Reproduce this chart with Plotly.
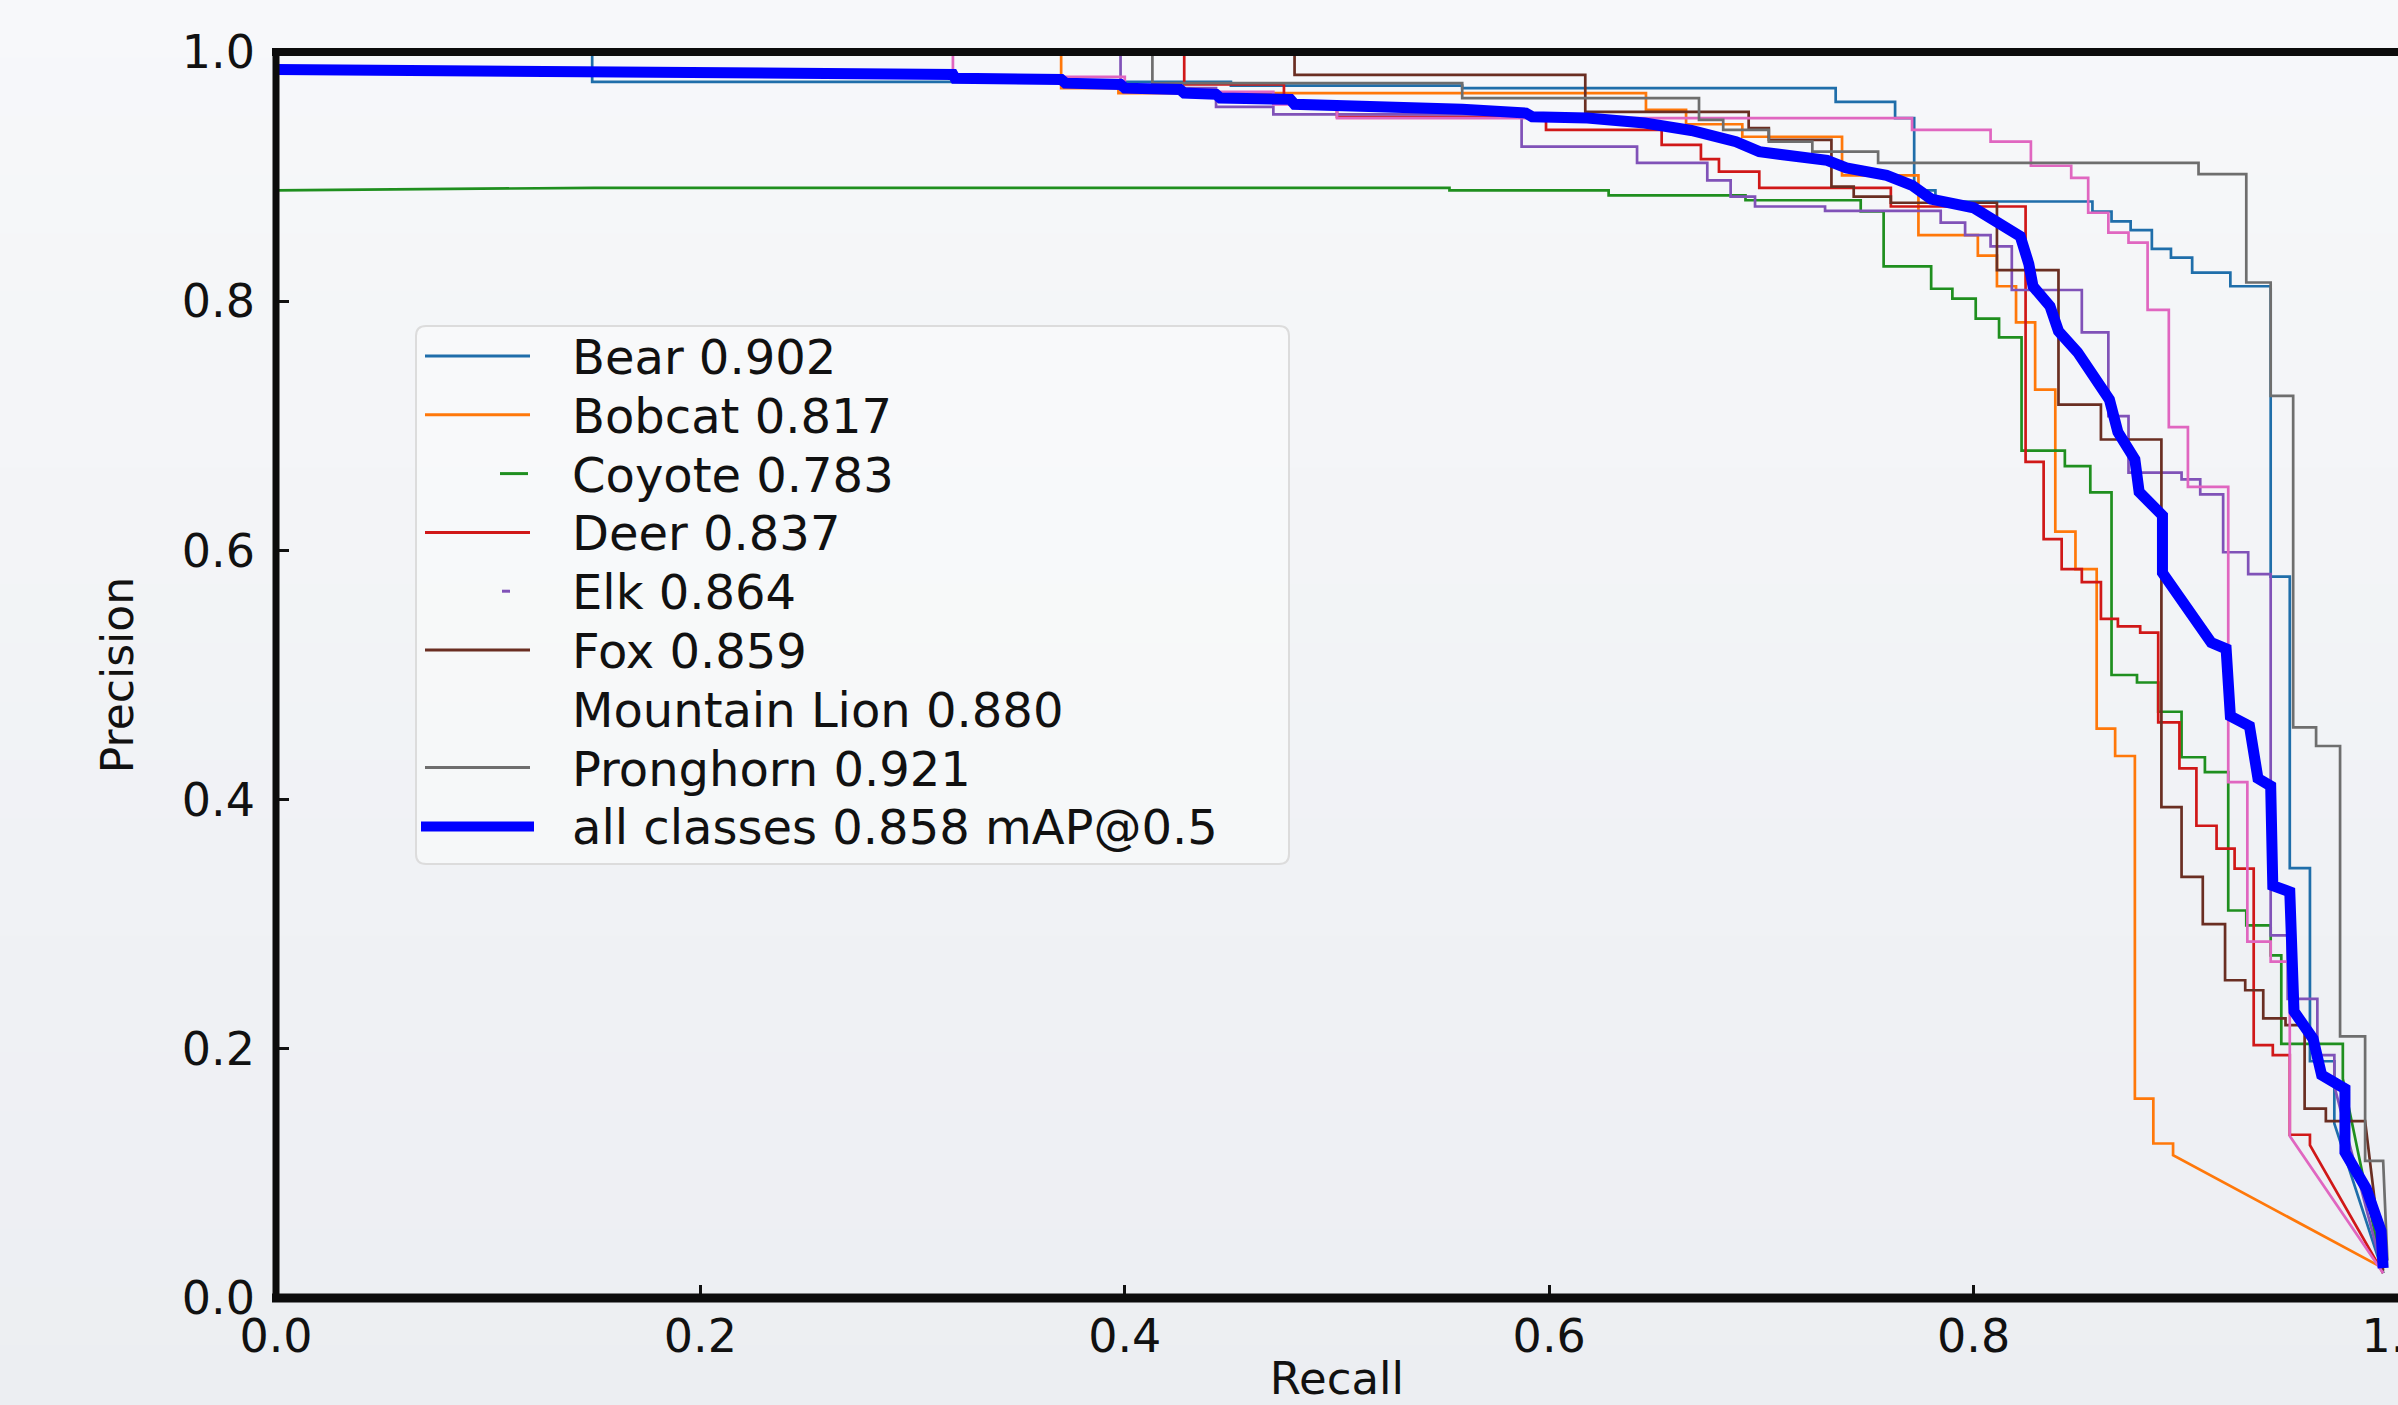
import plotly.graph_objects as go

# ---------------- data ----------------
class_names = ["Bear", "Bobcat", "Coyote", "Deer", "Elk", "Fox", "Mountain Lion", "Pronghorn"]
class_ap = [0.902, 0.817, 0.783, 0.837, 0.864, 0.859, 0.880, 0.921]
all_classes_map = 0.858

bear_recall = [0, .149, .149, .45, .45, .559, .559, .735, .735, .763, .763, .772, .772, .782, .782, .856, .856,
               .865, .865, .874, .874, .884, .884, .893, .893, .903, .903, .921, .921, .940, .940, .949, .949,
               .9585, .9585, .970, .970, .993]
bear_precision = [1, 1, .976, .976, .973, .973, .971, .971, .960, .960, .947, .947, .889, .889, .880, .880, .872,
                  .872, .864, .864, .857, .857, .842, .842, .835, .835, .823, .823, .812, .812, .579, .579, .345,
                  .345, .19, .19, .14, .02]

bobcat_recall = [0, .37, .37, .397, .397, .6456, .6456, .6645, .6645, .691, .691, .738, .738, .774, .774, .802,
                 .802, .811, .811, .820, .820, .829, .829, .8385, .8385, .848, .848, .858, .858, .8667, .8667,
                 .876, .876, .8847, .8847, .894, .894, .993]
bobcat_precision = [1, 1, .971, .971, .967, .967, .9535, .9535, .942, .942, .932, .932, .901, .901, .853, .853,
                    .8365, .8365, .812, .812, .783, .783, .729, .729, .615, .615, .585, .585, .457, .457, .435,
                    .435, .16, .16, .124, .124, .1146, .024]

coyote_recall = [0, .15, .553, .553, .628, .628, .6925, .6925, .7468, .7468, .7576, .7576, .780, .780, .790, .790,
                 .801, .801, .812, .812, .8226, .8226, .843, .843, .855, .855, .865, .865, .877, .877, .887, .887,
                 .898, .898, .909, .909, .920, .920, .9285, .9285, .940, .940, .945, .945, .974, .974, .993]
coyote_precision = [.889, .891, .891, .889, .889, .885, .885, .881, .881, .872, .872, .828, .828, .810, .810, .802,
                    .802, .786, .786, .771, .771, .680, .680, .6676, .6676, .6465, .6465, .50, .50, .494, .494,
                    .4705, .4705, .434, .434, .422, .422, .311, .311, .299, .299, .275, .275, .204, .204, .176, .02]

deer_recall = [0, .428, .428, .475, .475, .50, .50, .5985, .5985, .653, .653, .6715, .6715, .68, .68, .699, .699,
               .761, .761, .8245, .8245, .833, .833, .8415, .8415, .851, .851, .860, .860, .868, .868, .8785,
               .8785, .887, .887, .897, .897, .905, .905, .9145, .9145, .923, .923, .932, .932, .941, .941, .949,
               .949, .9585, .9585, .993]
deer_precision = [1, 1, .974, .974, .96, .96, .948, .948, .9375, .9375, .9255, .9255, .914, .914, .904, .904,
                  .891, .891, .876, .876, .671, .671, .609, .609, .585, .585, .5745, .5745, .545, .545, .539,
                  .539, .534, .534, .462, .462, .425, .425, .379, .379, .3606, .3606, .3446, .3446, .203, .203,
                  .195, .195, .131, .131, .1226, .02]

elk_recall = [0, .398, .398, .443, .443, .47, .47, .587, .587, .6414, .6414, .6745, .6745, .6855, .6855, .697,
              .697, .730, .730, .7845, .7845, .796, .796, .808, .808, .818, .818, .851, .851, .8635, .8635, .873,
              .873, .898, .898, .9068, .9068, .9176, .9176, .9294, .9294, .940, .940, .948, .948, .962, .962,
              .970, .970, .993]
elk_precision = [1, 1, .971, .971, .956, .956, .95, .95, .924, .924, .911, .911, .897, .897, .884, .884, .876,
                 .876, .8725, .8725, .863, .863, .853, .853, .844, .844, .809, .809, .775, .775, .7077, .7077,
                 .6625, .6625, .657, .657, .645, .645, .5985, .5985, .581, .581, .291, .291, .24, .24, .195, .195,
                 .17, .02]

fox_recall = [0, .48, .48, .617, .617, .694, .694, .7035, .7035, .733, .733, .7435, .7435, .761, .761, .811, .811,
              .840, .840, .860, .860, .8885, .8885, .898, .898, .908, .908, .9185, .9185, .928, .928, .9365,
              .9365, .947, .947, .956, .956, .966, .966, .9845, .993]
fox_precision = [1, 1, .9816, .9816, .952, .952, .939, .939, .9295, .9295, .892, .892, .884, .884, .879, .879,
                 .825, .825, .717, .717, .689, .689, .394, .394, .338, .338, .30, .30, .255, .255, .247, .247,
                 .2244, .2244, .219, .219, .152, .152, .142, .142, .022]

lion_recall = [0, .319, .319, .40, .40, .47, .47, .50, .50, .771, .771, .808, .808, .827, .827, .846, .846, .854,
               .854, .8635, .8635, .873, .873, .882, .882, .892, .892, .901, .901, .920, .920, .929, .929, .940,
               .940, .949, .949, .993]
lion_precision = [1, 1, .980, .980, .968, .968, .958, .958, .947, .947, .9375, .9375, .928, .928, .9087, .9087,
                  .899, .899, .871, .871, .855, .855, .847, .847, .793, .793, .699, .699, .651, .651, .414, .414,
                  .286, .286, .27, .27, .13, .02]

pronghorn_recall = [0, .413, .413, .559, .559, .6706, .6706, .682, .682, .7035, .7035, .724, .724, .755, .755,
                    .906, .906, .9285, .9285, .940, .940, .9506, .9506, .9614, .9614, .9727, .9727, .9845,
                    .9845, .993, .995]
pronghorn_precision = [1, 1, .975, .975, .963, .963, .9455, .9455, .9375, .9375, .928, .928, .92, .92, .911,
                       .911, .902, .902, .815, .815, .724, .724, .458, .458, .443, .443, .21, .21, .11, .11, .03]

all_recall = [0, .149, .15, .319, .32, .37, .372, .398, .40, .426, .428, .443, .445, .478, .48, .537, .559, .589,
              .592, .618, .645, .667, .688, .699, .718, .731, .740, .759, .771, .780, .800, .813, .822, .826,
              .828, .836, .840, .849, .855, .864, .868, .876, .878, .889, .889, .897, .905, .912, .919, .921,
              .930, .934, .940, .941, .949, .951, .960, .964, .975, .975, .985, .992, .993]
all_precision = [.986, .985, .983, .982, .979, .978, .975, .974, .971, .970, .967, .966, .963, .962, .958, .956,
                 .954, .951, .948, .947, .943, .937, .928, .920, .916, .913, .907, .901, .893, .882, .875, .861,
                 .852, .830, .812, .796, .776, .759, .743, .721, .695, .673, .647, .628, .582, .563, .542, .526,
                 .521, .467, .459, .417, .411, .331, .326, .230, .208, .179, .168, .117, .088, .054, .024]

x_tick_values = [0.0, 0.2, 0.4, 0.6, 0.8, 1.0]
y_tick_values = [0.0, 0.2, 0.4, 0.6, 0.8, 1.0]

# ---------------- styles ----------------
class_curves = [
    (bear_recall, bear_precision),
    (bobcat_recall, bobcat_precision),
    (coyote_recall, coyote_precision),
    (deer_recall, deer_precision),
    (elk_recall, elk_precision),
    (fox_recall, fox_precision),
    (lion_recall, lion_precision),
    (pronghorn_recall, pronghorn_precision),
]
class_colors = ["#1f6eaa", "#ff780a", "#1f8f1f", "#d01818", "#8052b8", "#6a2e22", "#e066c0", "#6e6e6e"]
all_color = "#0000ff"
FONT = "DejaVu Sans"
TEXT = "#111111"

W, H = 2398, 1405
L, T, BOT = 276, 52, 1298           # plot-area edges in pixels
PW, PH = W - L, BOT - T


def px_x(X):
    return (X - L) / PW


def px_y(Y):
    return (BOT - Y) / PH


fig = go.Figure()
for name, ap, (rec, prec), col in zip(class_names, class_ap, class_curves, class_colors):
    fig.add_trace(go.Scatter(x=rec, y=prec, mode="lines", name=f"{name} {ap:.3f}",
                             line=dict(color=col, width=2.7), showlegend=False))
fig.add_trace(go.Scatter(x=all_recall, y=all_precision, mode="lines",
                         name=f"all classes {all_classes_map:.3f} mAP@0.5",
                         line=dict(color=all_color, width=11), showlegend=False))

shapes = []
# soft vertical background gradient (lighter at the top)
top_rgb, bot_rgb = (247, 248, 250), (236, 238, 242)
n_bands = 24
for i in range(n_bands):
    f = (i + 0.5) / n_bands
    c = tuple(round(a + (b - a) * f) for a, b in zip(top_rgb, bot_rgb))
    shapes.append(dict(type="rect", xref="paper", yref="paper", layer="below",
                       x0=px_x(-2), x1=px_x(W + 2),
                       y0=px_y(H * (i + 1) / n_bands + 1), y1=px_y(H * i / n_bands - 1),
                       fillcolor=f"rgb{c}", line=dict(width=0)))

# spines (matplotlib-like, centred on the axes edges)
spine_col = "#0c0c0c"
shapes.append(dict(type="line", xref="paper", yref="paper", x0=px_x(L - 4), x1=1.0, y0=1, y1=1,
                   line=dict(color=spine_col, width=8), layer="above"))
shapes.append(dict(type="line", xref="paper", yref="paper", x0=px_x(L - 4), x1=1.0, y0=0, y1=0,
                   line=dict(color=spine_col, width=9), layer="above"))
shapes.append(dict(type="line", xref="paper", yref="paper", x0=0, x1=0, y0=px_y(BOT + 4), y1=px_y(T - 4),
                   line=dict(color=spine_col, width=7), layer="above"))

# manual legend (matplotlib style)
bx0, bx1, by0, by1 = 416, 1289, 326, 864
r = 10
path = (f"M {px_x(bx0 + r)},{px_y(by0)} L {px_x(bx1 - r)},{px_y(by0)} "
        f"Q {px_x(bx1)},{px_y(by0)} {px_x(bx1)},{px_y(by0 + r)} "
        f"L {px_x(bx1)},{px_y(by1 - r)} Q {px_x(bx1)},{px_y(by1)} {px_x(bx1 - r)},{px_y(by1)} "
        f"L {px_x(bx0 + r)},{px_y(by1)} Q {px_x(bx0)},{px_y(by1)} {px_x(bx0)},{px_y(by1 - r)} "
        f"L {px_x(bx0)},{px_y(by0 + r)} Q {px_x(bx0)},{px_y(by0)} {px_x(bx0 + r)},{px_y(by0)} Z")
shapes.append(dict(type="path", xref="paper", yref="paper", path=path,
                   fillcolor="rgba(250,251,252,0.6)", line=dict(color="#dcdcdc", width=2), layer="above"))

row_y0, row_step = 356, 58.8
sample_x = [(425, 530), (425, 530), (500, 528), (425, 530), (502, 510), (425, 530), None, (425, 530)]
labels = [f"{n} {a:.3f}" for n, a in zip(class_names, class_ap)] + \
         [f"all classes {all_classes_map:.3f} mAP@0.5"]
annotations = []
for i, lab in enumerate(labels):
    yy = row_y0 + i * row_step
    if i < len(class_names):
        seg = sample_x[i]
        if seg is not None:
            shapes.append(dict(type="line", xref="paper", yref="paper", x0=px_x(seg[0]), x1=px_x(seg[1]),
                               y0=px_y(yy), y1=px_y(yy), line=dict(color=class_colors[i], width=3),
                               layer="above"))
    else:
        shapes.append(dict(type="line", xref="paper", yref="paper", x0=px_x(421), x1=px_x(534),
                           y0=px_y(yy), y1=px_y(yy), line=dict(color=all_color, width=10), layer="above"))
    annotations.append(dict(xref="paper", yref="paper", x=px_x(570), y=px_y(yy + 1), text=lab,
                            showarrow=False, xanchor="left", yanchor="middle",
                            font=dict(family=FONT, size=48, color=TEXT)))

fig.update_layout(
    width=W, height=H,
    margin=dict(l=L, r=0, t=T, b=H - BOT, pad=0),
    paper_bgcolor="#f2f3f6", plot_bgcolor="rgba(0,0,0,0)",
    font=dict(family=FONT, color=TEXT, size=44),
    shapes=shapes, annotations=annotations,
    showlegend=False,
    xaxis=dict(range=[0, 1], tickvals=x_tick_values, tickformat=".1f", showgrid=False, zeroline=False,
               showline=False, ticks="inside", ticklen=13, tickwidth=2.5, tickcolor="#111",
               ticklabelstandoff=7, ticklabeloverflow="allow", automargin=False,
               tickfont=dict(family=FONT, size=46, color=TEXT),
               title=dict(text="Recall", font=dict(family=FONT, size=45, color=TEXT), standoff=22)),
    yaxis=dict(range=[0, 1], tickvals=y_tick_values, tickformat=".1f", showgrid=False, zeroline=False,
               showline=False, ticks="inside", ticklen=13, tickwidth=2.5, tickcolor="#111",
               ticklabelstandoff=20, ticklabeloverflow="allow", automargin=False,
               tickfont=dict(family=FONT, size=46, color=TEXT),
               title=dict(text="Precision", font=dict(family=FONT, size=44, color=TEXT), standoff=34)),
)

fig.write_html("out.html", config={"displayModeBar": False},
               post_script="document.body.style.margin='0';document.body.style.overflow='hidden';")
